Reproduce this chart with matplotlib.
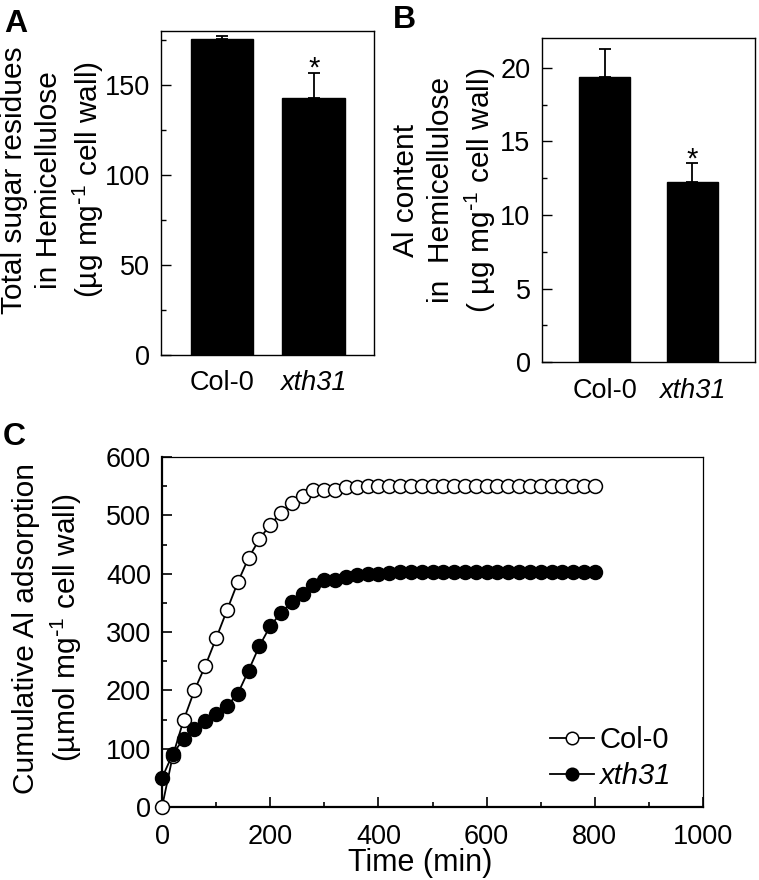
import matplotlib
matplotlib.use('Agg')
import matplotlib.pyplot as plt
from matplotlib.ticker import MultipleLocator

plt.rcParams.update({
    'font.family': 'Liberation Sans',
    'mathtext.default': 'regular',
    'axes.linewidth': 1.0,
    'xtick.direction': 'in',
    'ytick.direction': 'in',
})

# panel A / B: bar data
genotypes = ['Col-0', 'xth31']
sugar_mean = [175.5, 143.0]
sugar_err = [1.5, 13.5]
al_hemi_mean = [19.4, 12.25]
al_hemi_err = [1.85, 1.25]

# panel C: cumulative Al adsorption
time_min = [0, 20, 40, 60, 80, 100, 120, 140, 160, 180, 200, 220, 240, 260, 280,
            300, 320, 340, 360, 380, 400, 420, 440, 460, 480, 500, 520, 540, 560,
            580, 600, 620, 640, 660, 680, 700, 720, 740, 760, 780, 800]
col0_ads = [0, 88, 149, 200, 242, 289, 337, 385, 427, 459, 484, 504, 522, 534, 543,
            544, 543, 549, 549, 551, 550, 550, 550, 550, 550, 550, 550, 550, 550,
            550, 550, 550, 550, 550, 550, 550, 550, 550, 550, 550, 550]
xth31_ads = [50, 91, 117, 133, 147, 160, 173, 194, 234, 276, 310, 333, 351, 366, 380,
             389, 389, 394, 397, 400, 400, 401, 403, 403, 403, 403, 403, 403, 403,
             403, 403, 403, 403, 403, 403, 403, 403, 403, 403, 403, 403]

W, H = 759, 880
TICK_FS = 19.5
LABEL_FS = 21.5
fig = plt.figure(figsize=(W / 100, H / 100), dpi=100)


def px_axes(left, top, right, bottom):
    return fig.add_axes([left / W, 1 - bottom / H, (right - left) / W, (bottom - top) / H])


def bar_panel(ax, means, errs, width, xlim, ylim, major, minor):
    xs = list(range(len(means)))
    ax.bar(xs, means, width=width, color='black', edgecolor='black', zorder=2)
    ax.errorbar(xs, means, yerr=[[0] * len(errs), errs], fmt='none', ecolor='black',
                elinewidth=1.3, capsize=4.5, capthick=1.3, zorder=1)
    ax.set_xlim(*xlim)
    ax.set_ylim(*ylim)
    ax.yaxis.set_major_locator(MultipleLocator(major))
    ax.yaxis.set_minor_locator(MultipleLocator(minor))
    ax.set_xticks(xs)
    ax.set_xticklabels(genotypes)
    ax.get_xticklabels()[1].set_style('italic')
    ax.tick_params(axis='x', length=0, pad=11, labelsize=TICK_FS)
    ax.tick_params(axis='y', which='major', length=7, width=1, pad=8, labelsize=TICK_FS)
    ax.tick_params(axis='y', which='minor', length=3.5, width=1)
    # significance mark above the mutant
    ax.annotate('*', xy=(1, means[1] + errs[1]), xytext=(0, -7), textcoords='offset points',
                ha='center', va='bottom', fontsize=21)


sup = r'mg$^{\text{-}1}$'

# A
axA = px_axes(161, 31, 374, 355)
bar_panel(axA, sugar_mean, sugar_err, 0.683, (-0.665, 1.658), (0, 180), 50, 25)
fig.text(53 / W, 1 - 180 / H,
         'Total sugar residues\nin Hemicellulose\n(µg ' + sup + ' cell wall)',
         rotation=90, ha='center', va='center', multialignment='center',
         fontsize=LABEL_FS, linespacing=1.3)
fig.text(4 / W, 1 - 32 / H, 'A', fontsize=23, fontweight='bold', ha='left', va='baseline')

# B
axB = px_axes(541.7, 38.3, 755, 362.3)
bar_panel(axB, al_hemi_mean, al_hemi_err, 0.58, (-0.717, 1.712), (0, 22), 5, 2.5)
fig.text(445 / W, 1 - 190 / H,
         'Al content\nin  Hemicellulose\n( µg ' + sup + ' cell wall)',
         rotation=90, ha='center', va='center', multialignment='center',
         fontsize=LABEL_FS, linespacing=1.3)
fig.text(393 / W, 1 - 28 / H, 'B', fontsize=23, fontweight='bold', ha='left', va='baseline')

# C
axC = px_axes(162, 457, 703, 807)
axC.plot(time_min, col0_ads, '-o', color='black', lw=1.3, ms=10, mfc='white',
         mec='black', mew=1.1, label='Col-0', clip_on=False, zorder=3)
axC.plot(time_min, xth31_ads, '-o', color='black', lw=1.3, ms=10, mfc='black',
         mec='black', mew=1.1, label='xth31', clip_on=False, zorder=4)
axC.set_xlim(0, 1000)
axC.set_ylim(0, 600)
axC.xaxis.set_major_locator(MultipleLocator(200))
axC.xaxis.set_minor_locator(MultipleLocator(100))
axC.yaxis.set_major_locator(MultipleLocator(100))
axC.yaxis.set_minor_locator(MultipleLocator(50))
axC.tick_params(which='major', length=7, width=1.2, labelsize=TICK_FS)
axC.tick_params(which='minor', length=3.5, width=1.2)
axC.tick_params(axis='y', pad=8)
axC.tick_params(axis='x', pad=12)
axC.spines['left'].set_linewidth(1.6)
axC.spines['bottom'].set_linewidth(1.6)
axC.spines['top'].set_linewidth(0.9)
axC.spines['right'].set_linewidth(0.9)
axC.set_xlabel('Time (min)', fontsize=22)
axC.xaxis.set_label_coords(0.477, -0.118)
fig.text(48 / W, 1 - 628 / H,
         'Cumulative Al adsorption\n(µmol ' + sup + ' cell wall)',
         rotation=90, ha='center', va='center', multialignment='center',
         fontsize=LABEL_FS, linespacing=1.3)
fig.text(3 / W, 1 - 445 / H, 'C', fontsize=23, fontweight='bold', ha='left', va='baseline')

leg = axC.legend(loc='upper left', bbox_to_anchor=(0.717, 0.23), frameon=False,
                 fontsize=21, handlelength=1.5, handletextpad=0.2, borderpad=0,
                 borderaxespad=0, labelspacing=0.25, markerscale=0.9)
leg.get_texts()[1].set_style('italic')

fig.savefig('out.png', dpi=100)
